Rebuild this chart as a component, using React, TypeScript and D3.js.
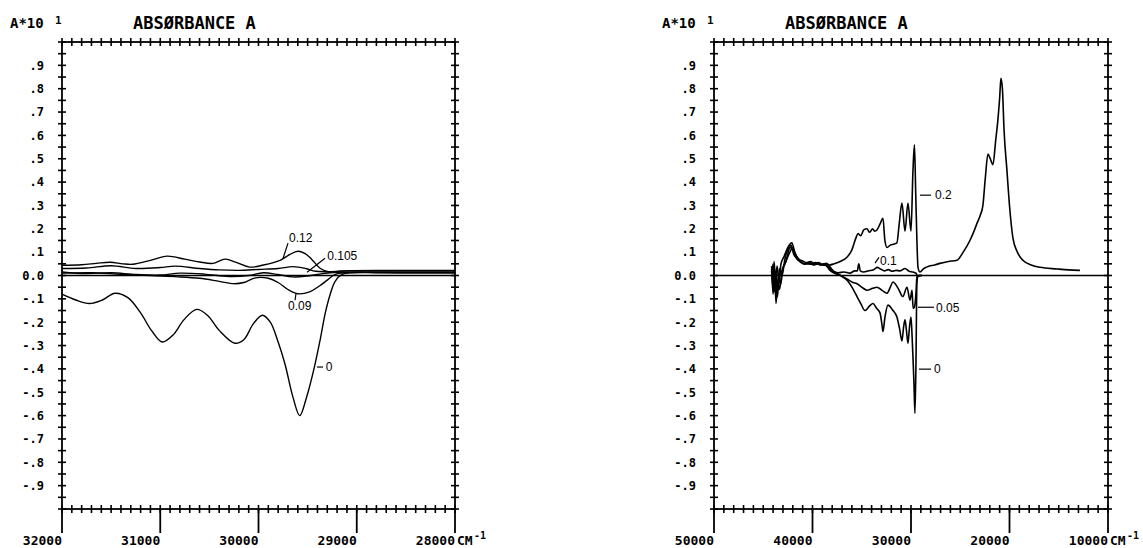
import { useEffect, useRef } from 'react';
import * as d3 from 'd3';

type Pt = [number, number];

// wavenumber (cm-1), absorbance/10
const leftCurve0: Pt[] = [
  [32000, -0.08], [31860, -0.105], [31720, -0.12], [31590, -0.105], [31460, -0.076], [31330, -0.095],
  [31200, -0.16], [31090, -0.235], [30980, -0.285], [30870, -0.255], [30760, -0.19], [30630, -0.145],
  [30520, -0.17], [30400, -0.235], [30240, -0.29], [30150, -0.275], [30050, -0.205], [29960, -0.17],
  [29880, -0.2], [29800, -0.285], [29730, -0.38], [29650, -0.52], [29580, -0.6], [29510, -0.52],
  [29430, -0.39], [29370, -0.27], [29320, -0.16], [29270, -0.08], [29220, -0.025], [29150, 0.005],
  [29050, 0.012], [28800, 0.012], [28500, 0.012], [28000, 0.012],
];
const leftCurve009: Pt[] = [
  [32000, 0.01], [31700, 0.012], [31400, 0.005], [31100, 0.0], [30850, -0.005], [30600, -0.012],
  [30400, -0.025], [30250, -0.035], [30150, -0.03], [30030, -0.01], [29900, -0.012], [29800, -0.03],
  [29700, -0.06], [29600, -0.078], [29480, -0.07], [29380, -0.045], [29300, -0.02], [29220, 0.005],
  [29100, 0.012], [28500, 0.012], [28000, 0.012],
];
const leftCurve01: Pt[] = [
  [32000, 0.015], [31750, 0.008], [31500, 0.012], [31250, 0.004], [31000, 0.002], [30800, 0.01],
  [30550, 0.006], [30300, -0.004], [30100, 0.0], [29950, 0.012], [29800, 0.004], [29650, -0.006],
  [29500, -0.002], [29350, 0.008], [29200, 0.014], [28800, 0.015], [28000, 0.015],
];
const leftCurve0105: Pt[] = [
  [32000, 0.03], [31750, 0.032], [31500, 0.042], [31250, 0.03], [31000, 0.034], [30850, 0.04],
  [30600, 0.03], [30400, 0.024], [30200, 0.022], [30000, 0.026], [29800, 0.03], [29650, 0.038],
  [29520, 0.03], [29420, 0.018], [29300, 0.016], [29100, 0.02], [28500, 0.02], [28000, 0.02],
];
const leftCurve012: Pt[] = [
  [32000, 0.044], [31800, 0.046], [31650, 0.052], [31510, 0.057], [31380, 0.05], [31280, 0.048],
  [31100, 0.065], [30930, 0.083], [30750, 0.07], [30600, 0.058], [30460, 0.052], [30340, 0.07],
  [30220, 0.055], [30090, 0.036], [29950, 0.045], [29780, 0.065], [29680, 0.09], [29600, 0.104],
  [29530, 0.095], [29460, 0.07], [29370, 0.03], [29270, 0.014], [29150, 0.02], [28500, 0.022],
  [28000, 0.022],
];

const rightCurve02: Pt[] = [
  [44150, 0.02], [44000, -0.05], [43900, 0.06], [43750, -0.03], [43600, 0.04], [43400, -0.02],
  [43200, 0.05], [42900, 0.08], [42500, 0.12], [42100, 0.14], [41800, 0.1], [41400, 0.07],
  [41000, 0.062], [40600, 0.055], [40200, 0.06], [39800, 0.05], [39400, 0.055], [39000, 0.048],
  [38600, 0.052], [38300, 0.045], [37800, 0.05], [37200, 0.06], [36500, 0.078], [36000, 0.11],
  [35600, 0.16], [35380, 0.18], [35100, 0.17], [34800, 0.195], [34470, 0.2], [34200, 0.185],
  [33900, 0.2], [33700, 0.19], [33460, 0.195], [33150, 0.22], [32850, 0.245], [32650, 0.15],
  [32440, 0.12], [32100, 0.13], [31700, 0.135], [31430, 0.14], [31200, 0.22], [30920, 0.31],
  [30610, 0.19], [30310, 0.31], [30000, 0.19], [29800, 0.45], [29650, 0.56], [29520, 0.35],
  [29400, 0.15], [29290, 0.035], [29090, 0.015], [28700, 0.03], [28200, 0.04], [27600, 0.045],
  [27060, 0.052], [26200, 0.06], [25340, 0.065], [24700, 0.1], [24020, 0.15], [23600, 0.19],
  [23330, 0.22], [22950, 0.26], [22700, 0.3], [22450, 0.42], [22190, 0.52], [21950, 0.5],
  [21680, 0.475], [21400, 0.58], [21170, 0.67], [21000, 0.76], [20870, 0.845], [20720, 0.8],
  [20550, 0.62], [20260, 0.45], [20000, 0.3], [19650, 0.16], [19200, 0.1], [18640, 0.065],
  [17800, 0.045], [16910, 0.035], [15180, 0.028], [14000, 0.024], [12850, 0.022],
];
const rightCurve01: Pt[] = [
  [44150, 0.0], [44000, 0.05], [43850, -0.07], [43700, 0.02], [43550, -0.09], [43350, 0.03],
  [43100, 0.0], [42800, 0.07], [42300, 0.12], [42000, 0.11], [41600, 0.08], [41200, 0.06],
  [40800, 0.05], [40300, 0.055], [39900, 0.045], [39500, 0.05], [39000, 0.045], [38600, 0.05],
  [38300, 0.04], [37900, 0.02], [37400, 0.012], [36800, 0.015], [36200, 0.01], [35700, 0.02],
  [35450, 0.02], [35300, 0.05], [35150, 0.02], [34800, 0.015], [34300, 0.02], [33800, 0.025],
  [33400, 0.035], [33100, 0.028], [32700, 0.02], [32300, 0.025], [31900, 0.018], [31500, 0.022],
  [31100, 0.02], [30600, 0.03], [30200, 0.018], [29800, 0.015], [29500, 0.01], [29300, -0.005],
  [29100, 0.0], [28900, 0.0],
];
const rightCurve005: Pt[] = [
  [44150, 0.04], [44000, -0.03], [43850, 0.03], [43650, -0.1], [43450, 0.0], [43250, -0.04],
  [43000, 0.03], [42700, 0.06], [42200, 0.13], [41900, 0.09], [41500, 0.07], [41100, 0.055],
  [40700, 0.05], [40200, 0.048], [39700, 0.055], [39200, 0.045], [38800, 0.05], [38230, 0.022],
  [37700, 0.008], [37210, 0.001], [36500, -0.015], [35900, -0.03], [35480, -0.035], [35000, -0.05],
  [34470, -0.063], [33900, -0.055], [33460, -0.05], [32900, -0.065], [32440, -0.076], [32100, -0.05],
  [31830, -0.028], [31320, -0.054], [30820, -0.09], [30410, -0.05], [30100, -0.106], [29900, -0.063],
  [29780, -0.14], [29650, -0.135], [29500, -0.08], [29400, -0.007], [29200, 0.0], [28900, 0.0],
];
const rightCurve0: Pt[] = [
  [44150, 0.03], [44000, -0.08], [43850, 0.01], [43700, -0.12], [43550, -0.02], [43350, -0.06],
  [43100, 0.02], [42800, 0.05], [42300, 0.1], [42000, 0.12], [41700, 0.08], [41300, 0.06],
  [40900, 0.05], [40400, 0.052], [39900, 0.048], [39400, 0.05], [38900, 0.045], [38500, 0.04],
  [38000, 0.02], [37520, 0.01], [37000, -0.005], [36500, -0.02], [36000, -0.05], [35480, -0.09],
  [35100, -0.12], [34670, -0.15], [34200, -0.13], [33860, -0.12], [33500, -0.14], [33150, -0.16],
  [32950, -0.21], [32850, -0.24], [32650, -0.18], [32340, -0.127], [31830, -0.15], [31430, -0.178],
  [31150, -0.23], [30920, -0.28], [30750, -0.22], [30610, -0.19], [30450, -0.24], [30310, -0.29],
  [30150, -0.22], [30000, -0.178], [29880, -0.27], [29800, -0.35], [29700, -0.46], [29600, -0.59],
  [29500, -0.39], [29400, -0.03], [29290, 0.0], [29100, 0.0], [28900, 0.0],
];

const yTickValues = [0.9, 0.8, 0.7, 0.6, 0.5, 0.4, 0.3, 0.2, 0.1, 0, -0.1, -0.2, -0.3, -0.4, -0.5, -0.6, -0.7, -0.8, -0.9];
const yTickLabels = ['.9', '.8', '.7', '.6', '.5', '.4', '.3', '.2', '.1', '0.0', '-.1', '-.2', '-.3', '-.4', '-.5', '-.6', '-.7', '-.8', '-.9'];
const leftXTicks = [32000, 31000, 30000, 29000, 28000];
const rightXTicks = [50000, 40000, 30000, 20000, 10000];

interface CurveLabel {
  text: string;
  from: Pt; // on curve
  to: Pt; // end of leader
  at: Pt; // text start
}

const leftLabels: CurveLabel[] = [
  { text: '0.12', from: [29750, 0.074], to: [29700, 0.138], at: [29690, 0.164] },
  { text: '0.105', from: [29506, 0.014], to: [29323, 0.074], at: [29300, 0.083] },
  { text: '0.09', from: [29618, -0.076], to: [29628, -0.106], at: [29700, -0.131] },
  { text: '0', from: [29405, -0.392], to: [29343, -0.392], at: [29315, -0.392] },
];
const rightLabels: CurveLabel[] = [
  { text: '0.2', from: [29087, 0.344], to: [27970, 0.344], at: [27565, 0.344] },
  { text: '0.1', from: [33655, 0.053], to: [33250, 0.078], at: [33147, 0.065] },
  { text: '0.05', from: [29290, -0.136], to: [27666, -0.136], at: [27463, -0.136] },
  { text: '0', from: [29189, -0.401], to: [27970, -0.401], at: [27665, -0.401] },
];

const TOP = 42;
const BOTTOM = 509;
const MONO = '"DejaVu Sans Mono", monospace';

interface PanelCfg {
  left: number;
  right: number;
  domain: [number, number];
  minor: number;
  majors: number[];
  curves: Pt[][];
  smooth: boolean;
  labels: CurveLabel[];
}

function drawPanel(svg: d3.Selection<SVGSVGElement, unknown, null, undefined>, cfg: PanelCfg) {
  const x = d3.scaleLinear().domain(cfg.domain).range([cfg.left, cfg.right]);
  const y = d3.scaleLinear().domain([-1, 1]).range([BOTTOM, TOP]);
  const g = svg.append('g');

  // frame
  g.append('rect')
    .attr('x', cfg.left).attr('y', TOP)
    .attr('width', cfg.right - cfg.left).attr('height', BOTTOM - TOP)
    .attr('fill', 'none').attr('stroke', '#000').attr('stroke-width', 1.8);

  // cross ticks along x (top and bottom)
  const n = Math.round((cfg.domain[0] - cfg.domain[1]) / cfg.minor);
  const xMinor = d3.range(0, n + 1).map(i => cfg.domain[0] - i * cfg.minor);
  [TOP, BOTTOM].forEach(yy => {
    g.selectAll(null).data(xMinor).join('line')
      .attr('x1', d => x(d)).attr('x2', d => x(d))
      .attr('y1', yy - 4).attr('y2', yy + 4)
      .attr('stroke', '#000').attr('stroke-width', 1.6);
  });
  // cross ticks along y (left and right)
  const yMinor = d3.range(-20, 21).map(i => i * 0.05);
  [cfg.left, cfg.right].forEach(xx => {
    g.selectAll(null).data(yMinor).join('line')
      .attr('x1', xx - 4).attr('x2', xx + 4)
      .attr('y1', d => y(d)).attr('y2', d => y(d))
      .attr('stroke', '#000').attr('stroke-width', 1.6);
  });

  // major x ticks hanging below
  g.selectAll(null).data(cfg.majors).join('line')
    .attr('x1', d => x(d)).attr('x2', d => x(d))
    .attr('y1', BOTTOM).attr('y2', BOTTOM + 24)
    .attr('stroke', '#000').attr('stroke-width', 1.8);

  g.selectAll(null).data(cfg.majors).join('text')
    .attr('x', d => x(d)).attr('y', 545)
    .attr('text-anchor', 'end')
    .attr('font-family', MONO).attr('font-size', 13).attr('font-weight', 'bold')
    .text(d => String(d));

  g.append('text').attr('x', cfg.right + 2).attr('y', 545)
    .attr('font-family', MONO).attr('font-size', 13).attr('font-weight', 'bold').text('CM');
  g.append('text').attr('x', cfg.right + 19).attr('y', 539)
    .attr('font-family', MONO).attr('font-size', 10).attr('font-weight', 'bold').text('-1');

  // y labels
  g.selectAll(null).data(yTickValues).join('text')
    .attr('x', cfg.left - 18).attr('y', d => y(d)).attr('dy', '0.36em')
    .attr('text-anchor', 'end')
    .attr('font-family', MONO).attr('font-size', 12).attr('font-weight', 'bold')
    .text((d, i) => yTickLabels[i]);

  // titles
  g.append('text').attr('x', cfg.left - 52).attr('y', 28)
    .attr('font-family', MONO).attr('font-size', 14).attr('font-weight', 'bold').text('A*10');
  g.append('text').attr('x', cfg.left - 7).attr('y', 24)
    .attr('font-family', MONO).attr('font-size', 11).attr('font-weight', 'bold').text('1');
  g.append('text').attr('x', cfg.left + 71).attr('y', 29)
    .attr('font-family', MONO).attr('font-size', 17).attr('font-weight', 'bold').text('ABSØRBANCE A');

  // zero line
  g.append('line')
    .attr('x1', cfg.left).attr('x2', cfg.right)
    .attr('y1', y(0)).attr('y2', y(0))
    .attr('stroke', '#000').attr('stroke-width', 1.6);

  const line = d3.line<Pt>()
    .x(d => x(d[0])).y(d => y(d[1]))
    .curve(cfg.smooth ? d3.curveCatmullRom.alpha(0.5) : d3.curveMonotoneX);

  g.selectAll(null).data(cfg.curves).join('path')
    .attr('d', d => line(d))
    .attr('fill', 'none').attr('stroke', '#000')
    .attr('stroke-width', cfg.smooth ? 1.4 : 1.6)
    .attr('stroke-linejoin', 'round');

  cfg.labels.forEach(l => {
    g.append('line')
      .attr('x1', x(l.from[0])).attr('y1', y(l.from[1]))
      .attr('x2', x(l.to[0])).attr('y2', y(l.to[1]))
      .attr('stroke', '#000').attr('stroke-width', 1.2);
    g.append('text')
      .attr('x', x(l.at[0])).attr('y', y(l.at[1])).attr('dy', '0.36em')
      .attr('font-family', '"Liberation Sans", Arial, sans-serif').attr('font-size', 12)
      .text(l.text);
  });
}

export default function App() {
  const svgRef = useRef<SVGSVGElement>(null);

  useEffect(() => {
    if (!svgRef.current) return;
    const svg = d3.select(svgRef.current);
    svg.selectAll('*').remove();

    drawPanel(svg, {
      left: 62, right: 455, domain: [32000, 28000], minor: 100, majors: leftXTicks,
      curves: [leftCurve0, leftCurve009, leftCurve01, leftCurve0105, leftCurve012],
      smooth: true, labels: leftLabels,
    });
    drawPanel(svg, {
      left: 714, right: 1108, domain: [50000, 10000], minor: 1000, majors: rightXTicks,
      curves: [rightCurve0, rightCurve005, rightCurve01, rightCurve02],
      smooth: false, labels: rightLabels,
    });
  }, []);

  return (
    <svg
      ref={svgRef}
      width={1143}
      height={548}
      style={{ position: 'absolute', left: 0, top: 0, background: '#fff' }}
    />
  );
}
